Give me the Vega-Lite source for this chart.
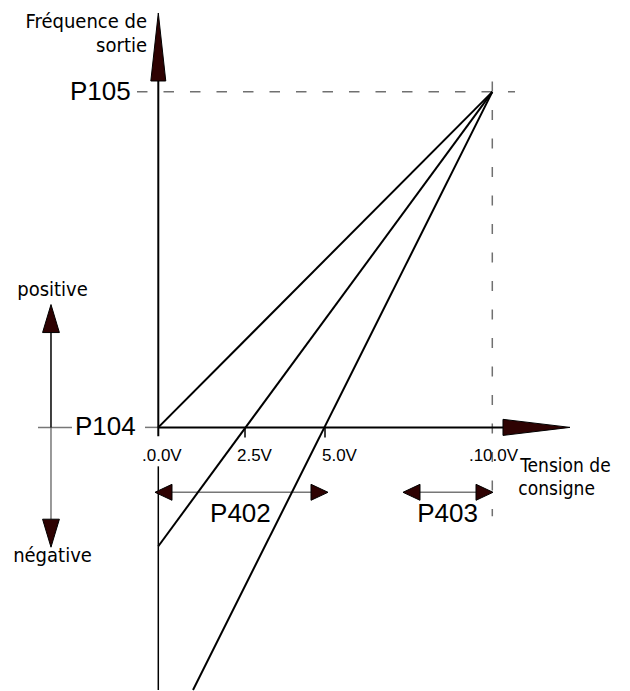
{
  "$schema": "https://vega.github.io/schema/vega-lite/v6.json",
  "width": 630,
  "height": 691,
  "autosize": {"type": "fit", "contains": "padding"},
  "padding": 0,
  "background": "white",
  "config": {"view": {"stroke": null}},
  "datasets": {
    "segments": [
      {"type": "courbe", "v": 0, "f": 0, "v2": 10, "f2": 100},
      {"type": "courbe", "v": 0, "f": -35.42, "v2": 10, "f2": 100},
      {"type": "courbe", "v": 1.039, "f": -78.27, "v2": 10, "f2": 100},
      {"type": "axe", "v": 0, "f": -2.68, "v2": 0, "f2": 104.5},
      {"type": "axe", "v": 0, "f": 0, "v2": 10.6, "f2": 0},
      {"type": "fin", "v": 0, "f": -11.61, "v2": 0, "f2": -78.27},
      {"type": "fin", "v": 2.596, "f": 0, "v2": 2.596, "f2": -2.98},
      {"type": "fin", "v": 4.991, "f": 0, "v2": 4.991, "f2": -2.98},
      {"type": "fin", "v": -3.213, "f": 28.5, "v2": -3.213, "f2": 0},
      {"type": "gris", "v": -0.398, "f": 0, "v2": 0, "f2": 0},
      {"type": "gris", "v": -3.602, "f": 0, "v2": -2.584, "f2": 0},
      {"type": "gris", "v": -3.213, "f": 0, "v2": -3.213, "f2": -27.4},
      {"type": "gris", "v": 0.2, "f": -19.35, "v2": 4.9, "f2": -19.35},
      {"type": "gris", "v": 7.5, "f": -19.35, "v2": 9.9, "f2": -19.35},
      {"type": "tiretsH", "v": -0.638, "f": 100, "v2": 10.68, "f2": 100},
      {"type": "tiretsV", "v": 10, "f": 105.65, "v2": 10, "f2": -26.49}
    ],
    "fleches": [
      {"type": "axe", "dir": "haut", "v": 0, "f": 123.51},
      {"type": "axe", "dir": "droite", "v": 12.326, "f": 0},
      {"type": "signe", "dir": "haut", "v": -3.213, "f": 36.61},
      {"type": "signe", "dir": "bas", "v": -3.213, "f": -35.71},
      {"type": "plage", "dir": "gauche", "v": -0.099, "f": -19.35},
      {"type": "plage", "dir": "droite", "v": 5.081, "f": -19.35},
      {"type": "plage", "dir": "gauche", "v": 7.326, "f": -19.35},
      {"type": "plage", "dir": "droite", "v": 10.021, "f": -19.35}
    ],
    "textes": [
      {"groupe": "param", "texte": "P105", "v": -2.644, "f": 97.62},
      {"groupe": "param", "texte": "P104", "v": -2.494, "f": -2.38},
      {"groupe": "param", "texte": "P402", "v": 1.55, "f": -28.27},
      {"groupe": "param", "texte": "P403", "v": 7.75, "f": -28.27},
      {"groupe": "tension", "texte": ".0.0V", "v": -0.488, "f": -10.12},
      {"groupe": "tension", "texte": "2.5V", "v": 2.356, "f": -10.12},
      {"groupe": "tension", "texte": "5.0V", "v": 4.901, "f": -10.12},
      {"groupe": "tension", "texte": ".10.0V", "v": 9.3, "f": -10.12},
      {"groupe": "gauche", "texte": "Fréquence de", "v": -0.338, "f": 119.05},
      {"groupe": "gauche", "texte": "sortie", "v": -0.338, "f": 111.9},
      {"groupe": "droite", "texte": "Tension de", "v": 10.84, "f": -13.39},
      {"groupe": "droite", "texte": "consigne", "v": 10.78, "f": -20.24},
      {"groupe": "signe", "texte": "positive", "v": -3.168, "f": 39.29},
      {"groupe": "signe", "texte": "négative", "v": -3.168, "f": -40.18}
    ]
  },
  "encoding": {
    "x": {"field": "v", "type": "quantitative", "axis": null, "scale": {"domain": [-4.7395, 14.1228], "nice": false, "zero": false}},
    "y": {"field": "f", "type": "quantitative", "axis": null, "scale": {"domain": [-78.274, 127.381], "nice": false, "zero": false}}
  },
  "layer": [
    {
      "data": {"name": "segments"},
      "transform": [{"filter": "datum.type === 'tiretsH'"}],
      "mark": {"type": "rule", "color": "#707070", "strokeWidth": 1.5, "strokeDash": [10.5, 16]},
      "encoding": {"x2": {"field": "v2"}, "y2": {"field": "f2"}}
    },
    {
      "data": {"name": "segments"},
      "transform": [{"filter": "datum.type === 'tiretsV'"}],
      "mark": {"type": "rule", "color": "#707070", "strokeWidth": 1.5, "strokeDash": [10, 18.5], "strokeDashOffset": 20},
      "encoding": {"x2": {"field": "v2"}, "y2": {"field": "f2"}}
    },
    {
      "data": {"name": "segments"},
      "transform": [{"filter": "datum.type === 'gris'"}],
      "mark": {"type": "rule", "color": "#777777", "strokeWidth": 1.5},
      "encoding": {"x2": {"field": "v2"}, "y2": {"field": "f2"}}
    },
    {
      "data": {"name": "segments"},
      "transform": [{"filter": "datum.type === 'fin'"}],
      "mark": {"type": "rule", "color": "black", "strokeWidth": 1.5},
      "encoding": {"x2": {"field": "v2"}, "y2": {"field": "f2"}}
    },
    {
      "data": {"name": "segments"},
      "transform": [{"filter": "datum.type === 'axe' || datum.type === 'courbe'"}],
      "mark": {"type": "rule", "color": "black", "strokeWidth": 2},
      "encoding": {"x2": {"field": "v2"}, "y2": {"field": "f2"}}
    },
    {
      "data": {"name": "fleches"},
      "transform": [{"filter": "datum.type === 'axe' && datum.dir === 'haut'"}],
      "mark": {"type": "point", "filled": true, "opacity": 1, "fill": "#2e0202", "stroke": "black", "strokeWidth": 1, "shape": "M0,0 L0.22,2 L-0.22,2 Z", "size": 4624}
    },
    {
      "data": {"name": "fleches"},
      "transform": [{"filter": "datum.type === 'axe' && datum.dir === 'droite'"}],
      "mark": {"type": "point", "filled": true, "opacity": 1, "fill": "#2e0202", "stroke": "black", "strokeWidth": 1, "shape": "M0,0 L-2,-0.24 L-2,0.24 Z", "size": 4489}
    },
    {
      "data": {"name": "fleches"},
      "transform": [{"filter": "datum.type === 'signe' && datum.dir === 'haut'"}],
      "mark": {"type": "point", "filled": true, "opacity": 1, "fill": "#2e0202", "stroke": "black", "strokeWidth": 1, "shape": "M0,0 L0.6,2 L-0.6,2 Z", "size": 784}
    },
    {
      "data": {"name": "fleches"},
      "transform": [{"filter": "datum.type === 'signe' && datum.dir === 'bas'"}],
      "mark": {"type": "point", "filled": true, "opacity": 1, "fill": "#2e0202", "stroke": "black", "strokeWidth": 1, "shape": "M0,0 L0.6,-2 L-0.6,-2 Z", "size": 784}
    },
    {
      "data": {"name": "fleches"},
      "transform": [{"filter": "datum.type === 'plage' && datum.dir === 'gauche'"}],
      "mark": {"type": "point", "filled": true, "opacity": 1, "fill": "#2e0202", "stroke": "black", "strokeWidth": 1, "shape": "M0,0 L2,-0.94 L2,0.94 Z", "size": 289}
    },
    {
      "data": {"name": "fleches"},
      "transform": [{"filter": "datum.type === 'plage' && datum.dir === 'droite'"}],
      "mark": {"type": "point", "filled": true, "opacity": 1, "fill": "#2e0202", "stroke": "black", "strokeWidth": 1, "shape": "M0,0 L-2,-0.94 L-2,0.94 Z", "size": 289}
    },
    {
      "data": {"name": "textes"},
      "transform": [{"filter": "datum.groupe === 'param'"}],
      "mark": {"type": "text", "align": "left", "baseline": "alphabetic", "font": "Liberation Sans, sans-serif", "fontSize": 26, "color": "black"},
      "encoding": {"text": {"field": "texte"}}
    },
    {
      "data": {"name": "textes"},
      "transform": [{"filter": "datum.groupe === 'tension'"}],
      "mark": {"type": "text", "align": "left", "baseline": "alphabetic", "font": "Liberation Sans, sans-serif", "fontSize": 17, "color": "black"},
      "encoding": {"text": {"field": "texte"}}
    },
    {
      "data": {"name": "textes"},
      "transform": [{"filter": "datum.groupe === 'gauche'"}],
      "mark": {"type": "text", "align": "right", "baseline": "alphabetic", "font": "DejaVu Sans Condensed, DejaVu Sans, sans-serif", "fontSize": 20, "color": "black"},
      "encoding": {"text": {"field": "texte"}}
    },
    {
      "data": {"name": "textes"},
      "transform": [{"filter": "datum.groupe === 'droite'"}],
      "mark": {"type": "text", "align": "left", "baseline": "alphabetic", "font": "DejaVu Sans Condensed, DejaVu Sans, sans-serif", "fontSize": 19, "color": "black"},
      "encoding": {"text": {"field": "texte"}}
    },
    {
      "data": {"name": "textes"},
      "transform": [{"filter": "datum.groupe === 'signe'"}],
      "mark": {"type": "text", "align": "center", "baseline": "alphabetic", "font": "DejaVu Sans Condensed, DejaVu Sans, sans-serif", "fontSize": 20, "color": "black"},
      "encoding": {"text": {"field": "texte"}}
    }
  ]
}
